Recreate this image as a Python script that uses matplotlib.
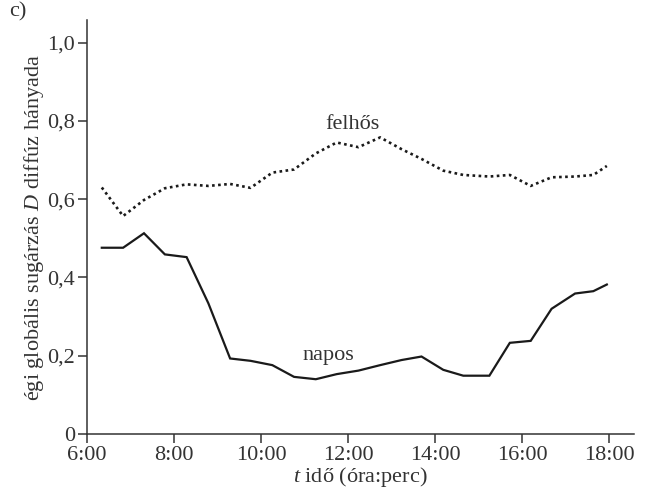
import matplotlib
matplotlib.use("Agg")
import matplotlib.pyplot as plt

# time in decimal hours
times = [6.34, 6.83, 7.31, 7.79, 8.29, 8.79, 9.29, 9.76, 10.26, 10.76, 11.26, 11.74,
         12.24, 12.74, 13.23, 13.69, 14.19, 14.65, 15.25, 15.72, 16.20, 16.68, 17.22,
         17.64, 17.95]
napos = [0.476, 0.476, 0.513, 0.459, 0.452, 0.334, 0.193, 0.187, 0.176, 0.146, 0.140,
         0.153, 0.162, 0.176, 0.189, 0.198, 0.164, 0.149, 0.149, 0.233, 0.238, 0.320,
         0.359, 0.365, 0.382]
felhos = [0.630, 0.557, 0.598, 0.628, 0.638, 0.634, 0.639, 0.629, 0.668, 0.676, 0.717,
          0.745, 0.733, 0.758, 0.728, 0.703, 0.673, 0.662, 0.658, 0.662, 0.634, 0.656,
          0.658, 0.662, 0.685]
xticks = [6, 8, 10, 12, 14, 16, 18]
xticklabels = ["6:00", "8:00", "10:00", "12:00", "14:00", "16:00", "18:00"]
yticks = [0, 0.2, 0.4, 0.6, 0.8, 1.0]
yticklabels = ["0", "0,2", "0,4", "0,6", "0,8", "1,0"]

plt.rcParams['font.family'] = ['Liberation Serif', 'DejaVu Serif']
plt.rcParams['mathtext.fontset'] = 'custom'
plt.rcParams['mathtext.it'] = 'Liberation Serif:italic'
plt.rcParams['mathtext.rm'] = 'Liberation Serif'

fig = plt.figure(figsize=(6.5, 4.91), dpi=100)
ax = fig.add_axes([87/650, 1-434/491, (634-87)/650, (434-20)/491])

txtcol = '#333333'
fs = 16
ax.plot(times, napos, color='#1a1a1a', lw=1.6, solid_joinstyle='miter')
ax.plot(times, felhos, color='#1a1a1a', lw=1.9, linestyle=(0, (1, 1.3)))

ax.set_xlim(6, 6 + (634-87)/43.5)
ax.set_ylim(0, (434-20)/391.3)
ax.set_xticks(xticks)
ax.set_xticklabels(xticklabels)
ax.set_yticks(yticks)
ax.set_yticklabels(yticklabels)

for s in ['top', 'right']:
    ax.spines[s].set_visible(False)
for s in ['left', 'bottom']:
    ax.spines[s].set_color('#333333')
    ax.spines[s].set_linewidth(1.1)
ax.tick_params(direction='out', length=6.5, width=1.1, color='#333333',
               labelsize=fs, labelcolor=txtcol, pad=2)

ax.set_xlabel(r"$\mathit{t}$ idő (óra:perc)", fontsize=fs, color=txtcol, labelpad=0)
ax.set_ylabel(r"égi globális sugárzás $\mathit{D}$ diffúz hányada", fontsize=fs,
              color=txtcol, labelpad=1)

ax.text(12.1, 0.79, "felhős", fontsize=fs, color=txtcol, ha='center', va='center')
ax.text(11.55, 0.2, "napos", fontsize=fs, color=txtcol, ha='center', va='center')
fig.text(18/650, 1-12/491, "c)", fontsize=fs, color=txtcol, ha='center', va='center')

fig.savefig("out.png", dpi=100)
